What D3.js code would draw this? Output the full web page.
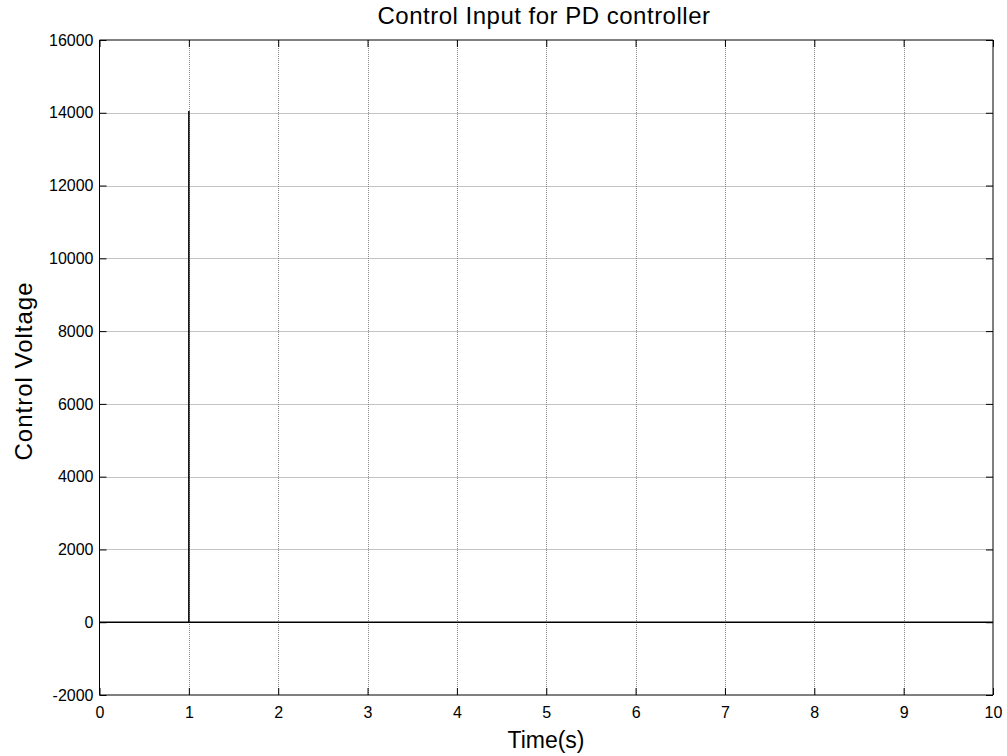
<!DOCTYPE html>
<html><head><meta charset="utf-8">
<script src="https://cdn.jsdelivr.net/npm/d3@7"></script>
<style>body{margin:0;background:#fff;} text{font-family:"Liberation Sans",Arial,sans-serif;}</style>
</head><body>
<svg id="c" width="1007" height="756"></svg>
<script>
const time = [0, 1, 1, 1, 10];
const voltage = [0, 0, 14050, 0, 0];
const xTicks = [0,1,2,3,4,5,6,7,8,9,10];
const yTicks = [-2000,0,2000,4000,6000,8000,10000,12000,14000,16000];
const title = "Control Input for PD controller";
const xLabel = "Time(s)";
const yLabel = "Control Voltage";

const svg = d3.select("#c");
const L=99.5, R=993, T=40, B=695;
const x = d3.scaleLinear().domain([0,10]).range([L,R]);
const y = d3.scaleLinear().domain([-2000,16000]).range([B,T]);
svg.append("rect").attr("width",1007).attr("height",756).attr("fill","#fff");

const g = svg.append("g");
// grid
g.selectAll(".gx").data(xTicks.slice(1,-1)).enter().append("line")
 .attr("x1",d=>Math.round(x(d))+0.5).attr("x2",d=>Math.round(x(d))+0.5).attr("y1",T).attr("y2",B)
 .attr("stroke","#888").attr("stroke-width",1).attr("stroke-dasharray","1,1");
g.selectAll(".gy").data(yTicks.slice(1,-1)).enter().append("line")
 .attr("y1",d=>Math.round(y(d))+0.5).attr("y2",d=>Math.round(y(d))+0.5).attr("x1",L).attr("x2",R)
 .attr("stroke","#888").attr("stroke-width",1).attr("stroke-dasharray","1,1");

// line
const line = d3.line().x((d,i)=>x(time[i])).y((d,i)=>y(voltage[i]));
g.append("path").datum(voltage).attr("d",line).attr("fill","none").attr("stroke","#000").attr("stroke-width",1.5);

// axes
const tk = 7;
const fmt = d => String(d);
const xb = d3.axisBottom(x).tickValues(xTicks).tickSize(-tk).tickPadding(12).tickFormat(fmt);
const xt = d3.axisTop(x).tickValues(xTicks).tickSize(-tk).tickFormat("");
const yl = d3.axisLeft(y).tickValues(yTicks).tickSize(-tk).tickPadding(6).tickFormat(fmt);
const yr = d3.axisRight(y).tickValues(yTicks).tickSize(-tk).tickFormat("");
function style(sel){sel.attr("font-size",null).attr("font-family",null);
 sel.selectAll("path").attr("stroke","#000");sel.selectAll("line").attr("stroke","#000");
 sel.selectAll("text").attr("fill","#000").style("font-size","16px").style("font-family","Liberation Sans, Arial, sans-serif");}
svg.append("g").attr("transform",`translate(0,${B})`).call(xb).call(style).call(s=>s.select(".domain").attr("d",`M${L},0H${R}`));
svg.append("g").attr("transform",`translate(0,${T})`).call(xt).call(style).call(s=>s.select(".domain").attr("d",`M${L},0H${R}`));
svg.append("g").attr("transform",`translate(${L},0)`).call(yl).call(style).call(s=>s.select(".domain").attr("d",`M0,${T}V${B}`));
svg.append("g").attr("transform",`translate(${R},0)`).call(yr).call(style).call(s=>s.select(".domain").attr("d",`M0,${T}V${B}`));

svg.append("text").attr("x",544).attr("y",24).attr("text-anchor","middle").style("font-size","24px").style("letter-spacing","0.5px").text(title);
svg.append("text").attr("x",546).attr("y",748).attr("text-anchor","middle").style("font-size","23px").text(xLabel);
svg.append("text").attr("transform",`translate(32,371) rotate(-90)`).attr("text-anchor","middle").style("font-size","24px").style("letter-spacing","1px").text(yLabel);
</script>
</body></html>
